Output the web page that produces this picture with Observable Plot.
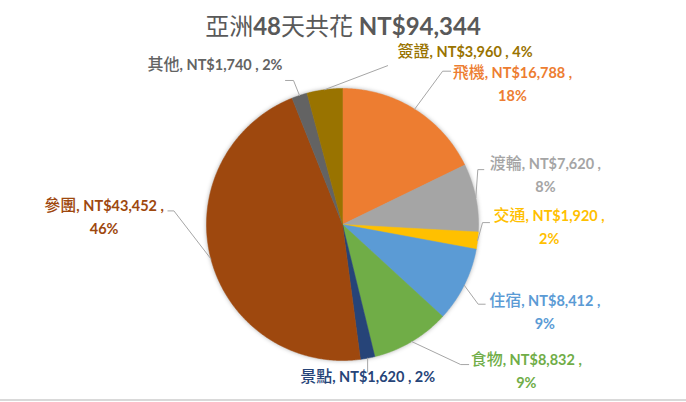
<!DOCTYPE html>
<html><head><meta charset="utf-8">
<script src="https://cdn.jsdelivr.net/npm/d3@7"></script>
<script src="https://cdn.jsdelivr.net/npm/@observablehq/plot@0.6"></script>
<style>
html,body{margin:0;padding:0;background:#fff;}
#wrap{position:relative;width:686px;height:402px;overflow:hidden;background:#fff;}
#chart{position:absolute;left:0;top:0;}
#title{position:absolute;left:0;top:9px;width:686px;text-align:center;color:#595959;font-size:24px;line-height:32px;white-space:nowrap;}
#title .cjk{font-family:"Noto Sans CJK TC";font-weight:400;}
#title .lat{font-family:Lato,"Noto Sans";font-weight:700;font-size:24px;}
#border{position:absolute;left:0;top:399px;width:686px;height:2px;background:#d9d9d9;}
</style></head><body>
<div id="wrap"><div id="chart"></div><div id="title"></div><div id="border"></div></div>
<script>
// ---- data ----
const titleText = "亞洲48天共花 NT$94,344";
const categories = ["飛機", "渡輪", "交通", "住宿", "食物", "景點", "參團", "其他", "簽證"];
const amounts = [16788, 7620, 1920, 8412, 8832, 1620, 43452, 1740, 3960];
const colors = ["#ED7D31", "#A5A5A5", "#FFC000", "#5B9BD5", "#70AD47", "#264478", "#9E480E", "#636363", "#997300"];

// ---- layout (leader elbows / label nudges, relative to slice geometry) ----
const elbowDx = [28, 2, 5, 14, 49, 0, -37, -6, 63];
const elbowDy = [-38, -28, -18, 19, 23, 14, -48, -15, -24];
const tickLen = [8, 6, 7, 7, 8, 0, -6, -8, 0];
const textDx = [10, 12, 11, 11, 10, 0, -10, -11, 10];
const textDy = [2, -6, -7, -3, -5, 5, -5, -15.5, -14];
const twoLine = [true, true, true, true, true, false, true, false, false];
const W = 686, H = 402, CX = 342, CY = 224, R = 136;
const CJK_SIZE = 16, LAT_SIZE = 14.5;
const CJK_FAMILY = '"Noto Sans CJK TC"', LAT_FAMILY = 'Lato';

// title
const titleEl = document.getElementById("title");
titleText.split(/([\u3400-\u9fff]+)/).filter(s => s.length).forEach(s => {
  const sp = document.createElement("span");
  sp.className = /[\u3400-\u9fff]/.test(s) ? "cjk" : "lat";
  sp.textContent = s;
  titleEl.appendChild(sp);
});

const fmt = d3.format(",");
const total = d3.sum(amounts);
const rows = categories.map((c, i) => ({cat: c, amount: amounts[i], pct: Math.round(amounts[i] / total * 100), i}));
const arcs = d3.pie().sort(null).value(d => d.amount)(rows);

// slice polygons
const slicePts = [];
arcs.forEach(a => {
  const c = a.data.cat;
  slicePts.push({cat: c, x: CX, y: CY});
  const n = Math.max(2, Math.ceil((a.endAngle - a.startAngle) / (Math.PI / 360)));
  for (let k = 0; k <= n; k++) {
    const t = a.startAngle + (a.endAngle - a.startAngle) * k / n;
    slicePts.push({cat: c, x: CX + R * Math.sin(t), y: CY - R * Math.cos(t)});
  }
  slicePts.push({cat: c, x: CX, y: CY});
});

// measurement
const ctx = document.createElement("canvas").getContext("2d");
function tw(s, font) { ctx.font = font; return ctx.measureText(s).width; }
const CJK_FONT = `500 ${CJK_SIZE}px ${CJK_FAMILY}`;
const LAT_FONT = `700 ${LAT_SIZE}px ${LAT_FAMILY}`;

const leaderPts = [];
const cjkTexts = [];
const latTexts = [];
arcs.forEach(a => {
  const d = a.data, i = d.i;
  const mid = (a.startAngle + a.endAngle) / 2;
  const ex = CX + R * Math.sin(mid), ey = CY - R * Math.cos(mid);
  const bx = ex + elbowDx[i], by = ey + elbowDy[i];
  leaderPts.push({cat: d.cat, x: ex, y: ey});
  leaderPts.push({cat: d.cat, x: bx, y: by});
  if (tickLen[i] !== 0) leaderPts.push({cat: d.cat, x: bx + tickLen[i], y: by});

  const name = d.cat;
  const rest = twoLine[i] ? `, NT$${fmt(d.amount)} ,` : `, NT$${fmt(d.amount)} , ${d.pct}%`;
  const wName = tw(name, CJK_FONT), wRest = tw(rest, LAT_FONT);
  const w1 = wName + wRest;
  let x0;
  if (textDx[i] > 0) x0 = bx + textDx[i];
  else if (textDx[i] < 0) x0 = bx + textDx[i] - w1;
  else x0 = bx - w1 / 2;
  const y1 = by + textDy[i];
  cjkTexts.push({cat: d.cat, x: x0, y: y1, text: name});
  latTexts.push({cat: d.cat, x: x0 + wName, y: y1 + 0.5, text: rest, anchor: "start"});
  if (twoLine[i]) latTexts.push({cat: d.cat, x: x0 + w1 / 2, y: y1 + 23.5, text: `${d.pct}%`, anchor: "middle"});
});

const chart = Plot.plot({
  width: W, height: H, margin: 0,
  x: {domain: [0, W], range: [0, W], axis: null},
  y: {domain: [0, H], range: [0, H], axis: null},
  color: {domain: categories, range: colors, legend: false},
  style: {background: "transparent"},
  marks: [
    Plot.line(slicePts, {x: "x", y: "y", z: d => d.cat, fill: d => d.cat, stroke: d => d.cat, strokeWidth: 0.5, curve: "linear"}),
    Plot.line(leaderPts, {x: "x", y: "y", z: d => d.cat, stroke: "#a6a6a6", strokeWidth: 1, curve: "linear"}),
    Plot.text(cjkTexts, {x: "x", y: "y", text: "text", fill: d => d.cat, textAnchor: "start", fontFamily: CJK_FAMILY, fontSize: CJK_SIZE, fontWeight: 500}),
    Plot.text(latTexts.filter(d => d.anchor === "start"), {x: "x", y: "y", text: "text", fill: d => d.cat, textAnchor: "start", fontFamily: LAT_FAMILY, fontSize: LAT_SIZE, fontWeight: 700}),
    Plot.text(latTexts.filter(d => d.anchor === "middle"), {x: "x", y: "y", text: "text", fill: d => d.cat, textAnchor: "middle", fontFamily: LAT_FAMILY, fontSize: LAT_SIZE, fontWeight: 700})
  ]
});
document.getElementById("chart").appendChild(chart);
const sliceGroup = chart.querySelector('g[aria-label="line"]');
if (sliceGroup) sliceGroup.style.filter = "drop-shadow(0px 0px 2px rgba(0,0,0,0.3))";
</script>
</body></html>
